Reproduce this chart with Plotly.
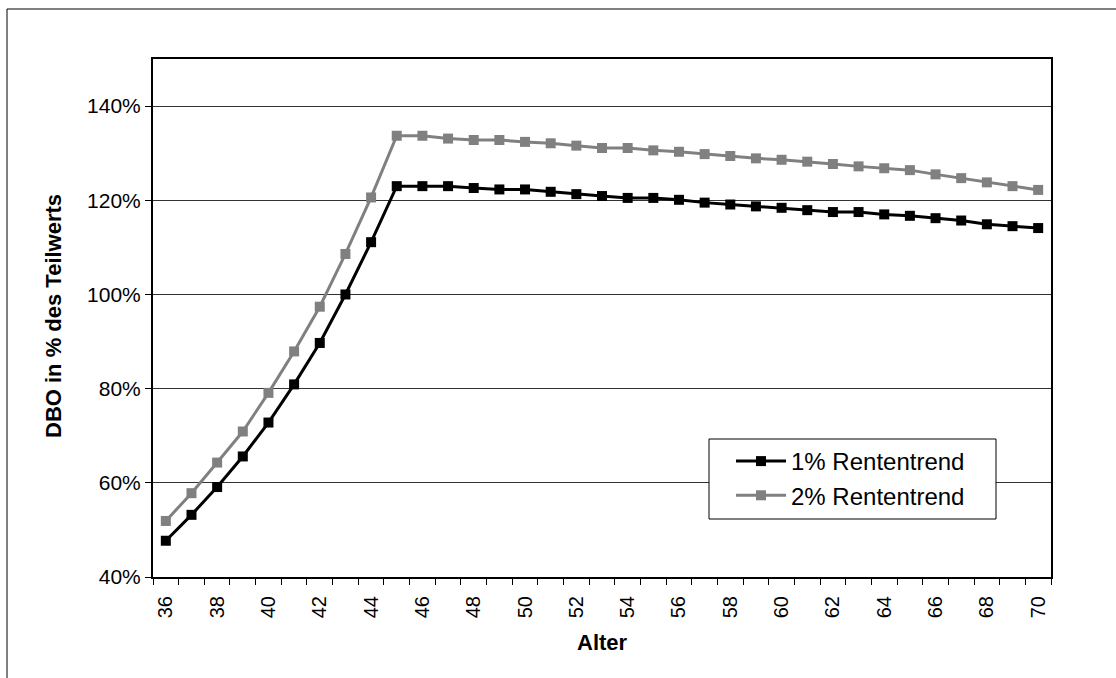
import plotly.graph_objects as go

ages = list(range(36, 71))
rente_1 = [47.7, 53.2, 59.1, 65.6, 72.8, 80.9, 89.7, 100.0, 111.1, 123.0,
           123.0, 123.0, 122.6, 122.3, 122.3, 121.8, 121.3, 120.9, 120.5, 120.5,
           120.1, 119.5, 119.1, 118.7, 118.4, 117.9, 117.5, 117.5, 117.0, 116.7,
           116.2, 115.7, 114.9, 114.5, 114.1]
rente_2 = [51.9, 57.8, 64.3, 70.9, 79.1, 87.9, 97.4, 108.6, 120.6, 133.7,
           133.7, 133.1, 132.8, 132.8, 132.4, 132.1, 131.6, 131.1, 131.1, 130.6,
           130.3, 129.8, 129.4, 128.9, 128.6, 128.2, 127.7, 127.2, 126.8, 126.4,
           125.5, 124.7, 123.8, 123.0, 122.2]
series_names = ["1% Rententrend", "2% Rententrend"]
x_tick_labels = [str(a) for a in range(36, 71, 2)]
y_ticks = [40, 60, 80, 100, 120, 140]

FONT = "Liberation Sans, Arial, sans-serif"

fig = go.Figure()
fig.add_trace(go.Scatter(
    x=ages, y=rente_1, name=series_names[0], mode="lines+markers",
    line=dict(color="#000000", width=3),
    marker=dict(symbol="square", size=10, color="#000000"),
))
fig.add_trace(go.Scatter(
    x=ages, y=rente_2, name=series_names[1], mode="lines+markers",
    line=dict(color="#808080", width=3),
    marker=dict(symbol="square", size=10, color="#808080"),
))

W, H = 1116, 678
L, R, T, B = 153, 65, 59, 101
pw, ph = W - L - R, H - T - B


def px(x):
    return (x - L) / pw


def py(y):
    return (H - B - y) / ph


fig.update_layout(
    width=W, height=H,
    margin=dict(l=L, r=R, t=T, b=B, autoexpand=False),
    paper_bgcolor="white", plot_bgcolor="white",
    font=dict(family=FONT, color="#000000"),
    showlegend=True,
    legend=dict(
        x=px(709), y=py(439), xanchor="left", yanchor="top",
        borderwidth=0, bgcolor="rgba(0,0,0,0)",
        font=dict(size=24, family=FONT), indentation=22,
        itemwidth=50,
    ),
    xaxis=dict(
        range=[35.5, 70.5], tickmode="array",
        tickvals=list(range(36, 71, 2)), ticktext=x_tick_labels,
        tickangle=-90, tickfont=dict(size=20, family=FONT),
        ticks="outside", ticklen=6, tickcolor="rgba(0,0,0,0)",
        ticklabelstandoff=3,
        minor=dict(tick0=35.5, dtick=1, ticks="outside", ticklen=6,
                   tickcolor="#000000", tickwidth=1, showgrid=False),
        showgrid=False, zeroline=False,
        showline=True, linecolor="#000000", linewidth=2, mirror=True,
    ),
    yaxis=dict(
        range=[40, 150], tickmode="array", tickvals=y_ticks,
        ticktext=[f"{v}%" for v in y_ticks],
        tickfont=dict(size=21, family=FONT),
        ticks="outside", ticklen=6, tickcolor="#000000", tickwidth=1,
        showgrid=True, gridcolor="#333333", gridwidth=1, zeroline=False,
        showline=True, linecolor="#000000", linewidth=2, mirror=True,
    ),
    annotations=[
        dict(text="<b>Alter</b>", xref="paper", yref="paper",
             x=0.5, y=py(642), xanchor="center", yanchor="middle",
             showarrow=False, font=dict(size=22, family=FONT)),
        dict(text="<b>DBO in % des Teilwerts</b>", xref="paper", yref="paper",
             x=px(53), y=py(316), xanchor="center", yanchor="middle",
             textangle=-90, showarrow=False, font=dict(size=22, family=FONT)),
    ],
    shapes=[
        # outer chart frame (only top and left edges are inside the image)
        dict(type="line", xref="paper", yref="paper",
             x0=px(7), x1=px(1200), y0=py(9), y1=py(9),
             line=dict(color="#000000", width=1), layer="below"),
        dict(type="line", xref="paper", yref="paper",
             x0=px(7), x1=px(7), y0=py(9), y1=py(800),
             line=dict(color="#000000", width=1), layer="below"),
        # legend box
        dict(type="rect", xref="paper", yref="paper",
             x0=px(709), x1=px(996), y0=py(519), y1=py(439),
             fillcolor="white", line=dict(color="#000000", width=1),
             layer="above"),
    ],
)

fig.write_html("out.html")
